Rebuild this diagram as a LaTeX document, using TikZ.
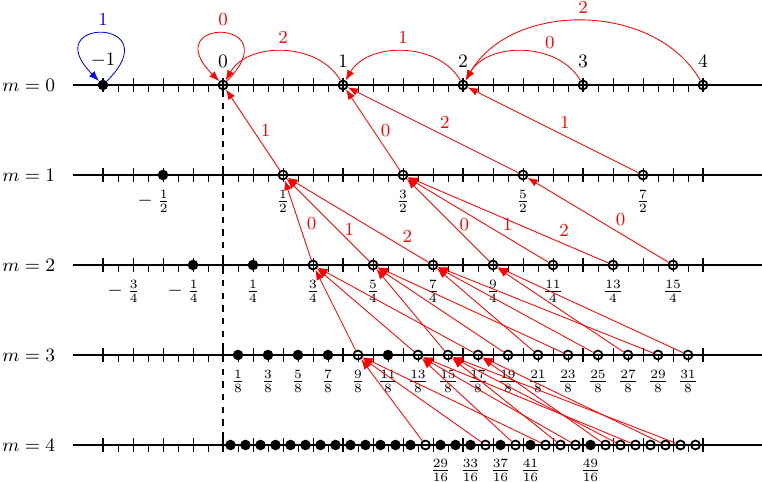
\documentclass[tikz,border=0pt]{standalone}
\usepackage{tikz}
\usetikzlibrary{arrows.meta,positioning}
\usepackage{amsmath}
\tikzset{
  %% number lines and ticks
  numLine/.style={line width=0.6pt},
  tickInt/.style={line width=1.4pt},
  tickQtr/.style={line width=0.4pt},
  tickEgt/.style={line width=0.4pt},
  %% points on the lines
  ptOpen/.style={circle, draw=black, line width=0.85pt, inner sep=0pt, minimum size=4.2pt},
  ptFull/.style={circle, fill=black, inner sep=0pt, minimum size=5pt},
  %% maps between the lines
  mapArr/.style={-{Latex}, red, line width=0.4pt},
  mapLbl/.style={text=red},
  selfArr/.style={-{Latex}, blue, line width=0.4pt},
}

\begin{document}
\begin{tikzpicture}[x=2cm, y=1.5cm, font=\fontsize{8.7}{10.4}\selectfont]
\useasboundingbox (-1.8583,0.9444) rectangle (4.4917,-4.4111);

%% lines m=0..4, ticks every 1/8
\foreach \m in {0,...,4}{
  \draw[numLine] (-1.25,-\m) -- (4.5,-\m);
  \node[anchor=east] (row\m) at (-1.336,-\m) {$m=\m$};
  \foreach \k in {-8,...,32}{
    \pgfmathtruncatemacro\r{mod(\k+8,8)}
    \pgfmathtruncatemacro\s{mod(\k+8,2)}
    \ifnum\r=0
      \draw[tickInt] (\k/8,-\m) +(0,-3.2pt) -- +(0,3.2pt);
    \else\ifnum\s=0
      \draw[tickQtr] (\k/8,-\m) +(0,-3.2pt) -- +(0,3.2pt);
    \else
      \draw[tickEgt] (\k/8,-\m) -- +(0,-3.2pt);
    \fi\fi
  }
}

%% m = 0
\node[ptFull] (m0kn1) at (-1,0) {};
\foreach \k in {0,...,4}
  \node[ptOpen] (m0k\k) at (\k,0) {};
\node[above=2pt of m0kn1] (t0kn1) {$-1$};
\foreach \k in {0,...,4}
  \node[above=2pt of m0k\k] (t0k\k) {$\k$};

%% m = 1
\node[ptFull] (m1kn1) at (-0.5,-1) {};
\foreach \k in {1,3,5,7}
  \node[ptOpen] (m1k\k) at (\k/2,-1) {};
\node (t1kn1) at (-0.576,-1.29) {$-\:\frac{1}{2}$};
\foreach \k in {1,3,5,7}
  \node (t1k\k) at (\k/2,-1.29) {$\frac{\k}{2}$};

%% m = 2
\node[ptFull] (m2kn1) at (-0.25,-2) {};
\node[ptFull] (m2k1) at (0.25,-2) {};
\foreach \k in {3,5,...,15}
  \node[ptOpen] (m2k\k) at (\k/4,-2) {};
\node (t2kn3) at (-0.826,-2.29) {$-\:\frac{3}{4}$};
\node (t2kn1) at (-0.326,-2.29) {$-\:\frac{1}{4}$};
\foreach \k in {1,3,...,15}
  \node (t2k\k) at (\k/4,-2.29) {$\frac{\k}{4}$};

%% m = 3
\foreach \k in {1,3,5,7,11}
  \node[ptFull] (m3k\k) at (\k/8,-3) {};
\foreach \k in {9,13,15,17,19,21,23,25,27,29,31}
  \node[ptOpen] (m3k\k) at (\k/8,-3) {};
\foreach \k in {1,3,...,31}
  \node (t3k\k) at (\k/8,-3.29) {$\frac{\k}{8}$};

%% m = 4
\foreach \k in {1,3,...,25,29,31,33,37,41,49}
  \node[ptFull] (m4k\k) at (\k/16,-4) {};
\foreach \k in {27,35,39,43,45,47,51,53,55,57,59,61,63}
  \node[ptOpen] (m4k\k) at (\k/16,-4) {};
\foreach \k in {29,33,37,41,49}
  \node (t4k\k) at (\k/16,-4.28) {$\frac{\k}{16}$};

\coordinate (z4) at (0,-4);
\draw[dashed, line width=0.5pt] (m0k0) -- (z4);

%% arcs on m = 0
\draw[selfArr] (m0kn1) .. controls +(45:1.6cm) and +(135:1.6cm) .. (m0kn1)
  node[pos=0.5, above] (l0kn1) {1};
\draw[mapArr] (m0k0) .. controls +(45:1.6cm) and +(135:1.6cm) .. (m0k0)
  node[pos=0.5, above, mapLbl] (l0k0) {0};
\draw[mapArr] (m0k1) to[bend right=60] node[above, mapLbl] (l0k1) {2} (m0k0);
\draw[mapArr] (m0k2) to[bend right=60] node[above, mapLbl] (l0k2) {1} (m0k1);
\draw[mapArr] (m0k3) to[bend right=60] node[pos=0.3, above, mapLbl] (l0k3) {0} (m0k2);
\draw[mapArr] (m0k4) to[bend right=60] node[above, mapLbl] (l0k4) {2} (m0k2);

%% m = 1 -> m = 0
\draw[mapArr] (m1k1) -- node[pos=0.49, right, mapLbl] (l1k1) {1} (m0k0);
\draw[mapArr] (m1k3) -- node[pos=0.49, right, mapLbl] (l1k3) {0} (m0k1);
\draw[mapArr] (m1k5) -- node[pos=0.43, above, mapLbl] (l1k5) {2} (m0k1);
\draw[mapArr] (m1k7) -- node[pos=0.43, above, mapLbl] (l1k7) {1} (m0k2);

%% m = 2 -> m = 1
\draw[mapArr] (m2k3) -- node[pos=0.45, right, mapLbl] (l2k3) {0} (m1k1);
\draw[mapArr] (m2k5) -- node[pos=0.39, right, mapLbl] (l2k5) {1} (m1k1);
\draw[mapArr] (m2k7) -- node[pos=0.15, above, mapLbl] (l2k7) {2} (m1k1);
\draw[mapArr] (m2k9) -- node[pos=0.45, right, mapLbl] (l2k9) {0} (m1k3);
\draw[mapArr] (m2k11) -- node[pos=0.29, above, mapLbl] (l2k11) {1} (m1k3);
\draw[mapArr] (m2k13) -- node[pos=0.22, above, mapLbl] (l2k13) {2} (m1k3);
\draw[mapArr] (m2k15) -- node[pos=0.34, above, mapLbl] (l2k15) {0} (m1k5);

%% m = 3 -> m = 2
\foreach \s/\t in {9/3,13/3,15/5,17/3,19/5,21/7,23/5,25/7,27/9,29/7,31/9}
  \draw[mapArr] (m3k\s) -- (m2k\t);

%% m = 4 -> m = 3
\foreach \s/\t in {27/9,35/9,39/13,43/9,45/15,47/13,51/17,53/15,55/13,59/17,61/15}
  \draw[mapArr] (m4k\s) -- (m3k\t);
\end{tikzpicture}
\end{document}
